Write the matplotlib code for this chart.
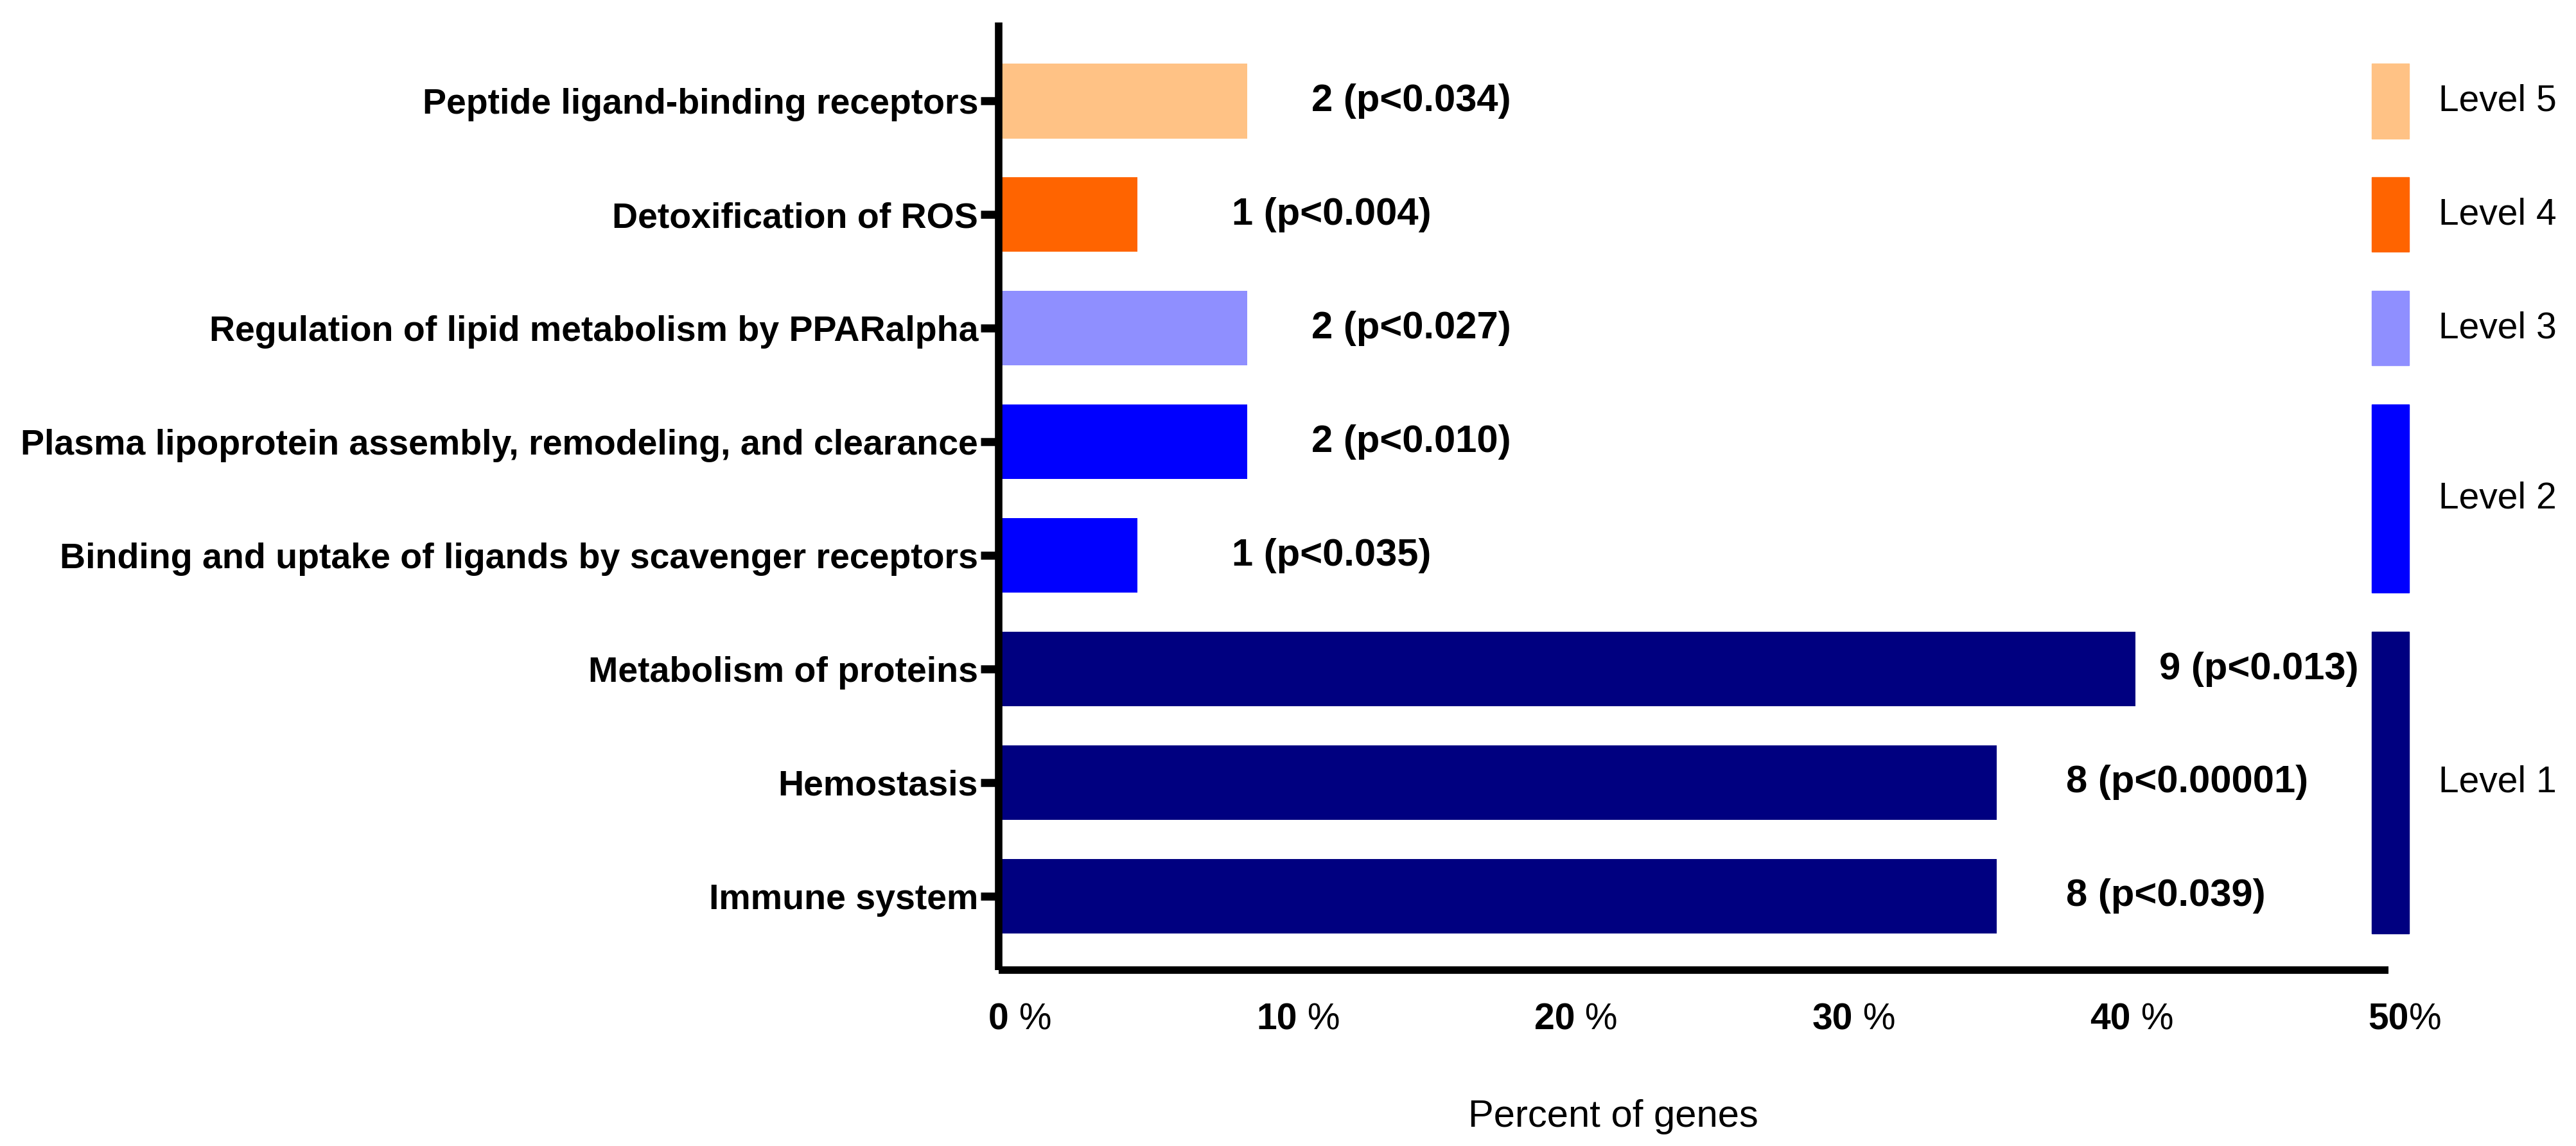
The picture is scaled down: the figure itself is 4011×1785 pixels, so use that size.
import matplotlib
matplotlib.use("Agg")
import matplotlib.pyplot as plt
from matplotlib.patches import Rectangle

plt.rcParams['font.family'] = ['Liberation Sans', 'DejaVu Sans']

# rows from bottom to top
categories = ["Immune system",
              "Hemostasis",
              "Metabolism of proteins",
              "Binding and uptake of ligands by scavenger receptors",
              "Plasma lipoprotein assembly, remodeling, and clearance",
              "Regulation of lipid metabolism by PPARalpha",
              "Detoxification of ROS",
              "Peptide ligand-binding receptors"]
percent = [35.9, 35.9, 40.9, 4.99, 8.95, 8.95, 4.99, 8.95]
bar_labels = ["8 (p<0.039)", "8 (p<0.00001)", "9 (p<0.013)", "1 (p<0.035)",
              "2 (p<0.010)", "2 (p<0.027)", "1 (p<0.004)", "2 (p<0.034)"]
levels = [1, 1, 1, 2, 2, 3, 4, 5]
level_names = ["Level 1", "Level 2", "Level 3", "Level 4", "Level 5"]
level_colors = ["#000080", "#0000FF", "#8F8FFF", "#FF6400", "#FFC285"]
x_ticks = [0, 10, 20, 30, 40, 50]
x_tick_numbers = ["0", "10", "20", "30", "40", "50"]
x_tick_suffix = [" %", " %", " %", " %", " %", "%"]

# gap between bar end and its text, in percent units
label_gap = [2.5, 2.5, 0.85, 3.4, 2.3, 2.3, 3.4, 2.3]

fig = plt.figure(figsize=(40.11, 17.85), dpi=100)
ax = fig.add_axes([0.3877, 0.1535, 0.9272 - 0.3877, 0.9804 - 0.1535])

rows = list(range(len(categories)))
colors = [level_colors[lv - 1] for lv in levels]
ax.barh(rows, percent, height=0.66, color=colors, zorder=2)

for r, val, txt, gap in zip(rows, percent, bar_labels, label_gap):
    ax.text(val + gap, r, txt, ha="left", va="center", fontsize=43,
            fontweight="bold")

# colour key for the levels, drawn beside the rows it covers
for i, (name, col) in enumerate(zip(level_names, level_colors)):
    lv_rows = [r for r, lv in zip(rows, levels) if lv == i + 1]
    y0 = min(lv_rows) - 0.33
    y1 = max(lv_rows) + 0.33
    ax.add_patch(Rectangle((49.4, y0), 1.35, y1 - y0, color=col,
                           clip_on=False, zorder=3))
    ax.text(51.8, (y0 + y1) / 2, name, ha="left", va="center", fontsize=41,
            clip_on=False)

ax.set_xlim(0, 50)
ax.set_ylim(-0.65, 7.69)
ax.set_yticks(rows)
ax.set_yticklabels(categories, fontsize=40, fontweight="bold")
ax.set_xticks(x_ticks)
ax.set_xticklabels(x_tick_numbers, fontsize=41, fontweight="bold")

for side in ["top", "right"]:
    ax.spines[side].set_visible(False)
for side in ["left", "bottom"]:
    ax.spines[side].set_linewidth(8.4)
    ax.spines[side].set_capstyle("butt")

ax.tick_params(axis="y", length=20, width=9, pad=3)
ax.tick_params(axis="x", length=0, pad=36)

# the percent sign is set in regular weight right after the bold number
for lab, suf in zip(ax.get_xticklabels(), x_tick_suffix):
    ax.annotate(suf, xy=(1, 0), xycoords=lab, ha="left", va="bottom",
                fontsize=41, annotation_clip=False)

ax.set_xlabel("Percent of genes", fontsize=43)
ax.xaxis.set_label_coords(0.442, -0.136)

fig.savefig("out.png", dpi=100)
